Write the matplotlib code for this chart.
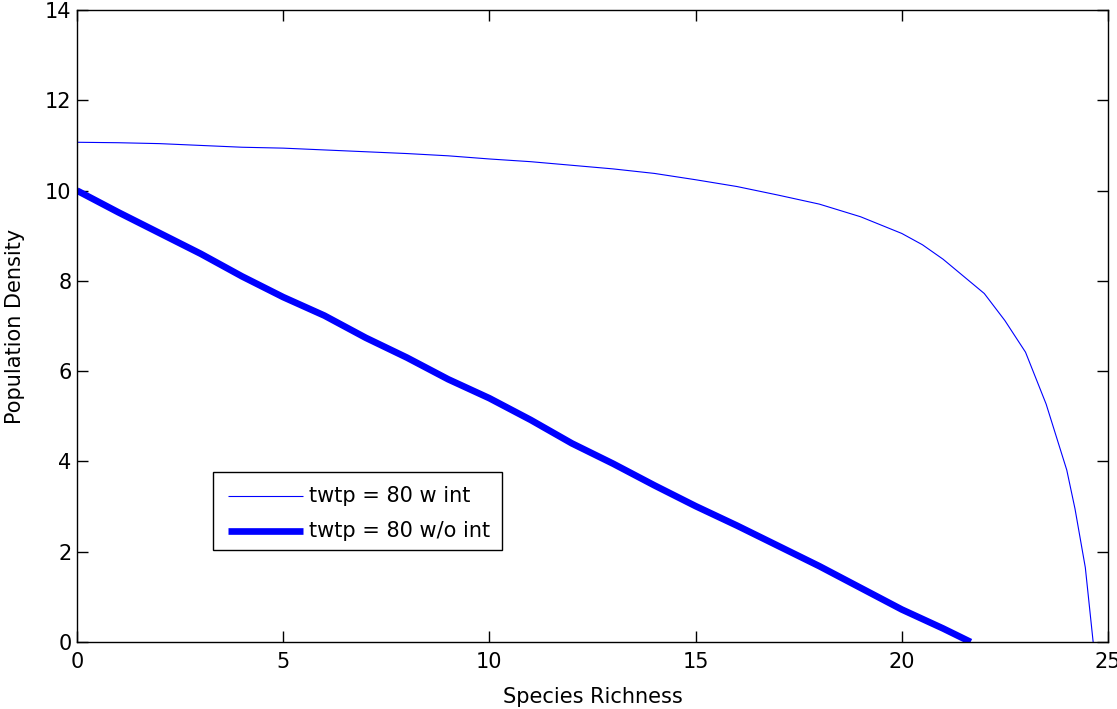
import matplotlib
matplotlib.use("Agg")
import matplotlib.pyplot as plt
from matplotlib.patches import Rectangle
from matplotlib.lines import Line2D

plt.rcParams['font.family'] = ['DejaVu Sans']

# Population density vs species richness, with interaction
richness_int = [0, 1, 2, 3, 4, 5, 6, 7, 8, 9, 10, 11, 12, 13, 14, 15, 16, 17, 18,
                19, 20, 20.5, 21, 21.5, 22, 22.5, 23, 23.5, 24, 24.2, 24.45, 24.64]
density_int = [11.07, 11.06, 11.04, 11.00, 10.96, 10.94, 10.90, 10.86, 10.82, 10.77,
               10.70, 10.64, 10.56, 10.48, 10.38, 10.24, 10.09, 9.90, 9.70, 9.42,
               9.05, 8.80, 8.48, 8.10, 7.72, 7.12, 6.42, 5.27, 3.81, 2.95, 1.65, 0.0]

# Without interaction
richness_noint = [0, 1, 2, 3, 4, 5, 6, 7, 8, 9, 10, 11, 12, 13, 14, 15, 16, 17, 18,
                  19, 20, 21, 21.67]
density_noint = [10.0, 9.52, 9.06, 8.60, 8.10, 7.64, 7.23, 6.74, 6.30, 5.82, 5.40,
                 4.92, 4.40, 3.95, 3.47, 3.01, 2.58, 2.13, 1.68, 1.20, 0.72, 0.30, 0.0]

labels = ['twtp = 80 w int', 'twtp = 80 w/o int']
x_ticks = [0, 5, 10, 15, 20, 25]
y_ticks = [0, 2, 4, 6, 8, 10, 12, 14]

FS = 15
thin_lw = 0.8
thick_lw = 4.8

W, H = 1117, 709
L, R, T, B = 77, 1108, 10, 642

fig = plt.figure(figsize=(W / 100, H / 100), dpi=100)
ax = fig.add_axes([L / W, 1 - B / H, (R - L) / W, (B - T) / H])

ax.plot(richness_int, density_int, color='#0000ff', lw=thin_lw, solid_joinstyle='round')
ax.plot(richness_noint, density_noint, color='#0000ff', lw=thick_lw, solid_capstyle='butt',
        solid_joinstyle='round')

ax.set_xlim(0, 25)
ax.set_ylim(0, 14)
ax.set_xticks(x_ticks)
ax.set_yticks(y_ticks)
ax.tick_params(direction='in', length=8, width=1, top=True, right=True,
               labelsize=FS)
ax.tick_params(axis='x', pad=7)
ax.tick_params(axis='y', pad=4)
for s in ax.spines.values():
    s.set_linewidth(1.0)

ax.set_xlabel('Species Richness', fontsize=FS, labelpad=11)
ax.set_ylabel('Population Density', fontsize=FS, labelpad=14)

# Legend box
pw, ph = R - L, B - T
x0, x1 = (213 - L) / pw, (502 - L) / pw
y0, y1 = (B - 550) / ph, (B - 472) / ph
ax.add_patch(Rectangle((x0, y0), x1 - x0, y1 - y0, transform=ax.transAxes,
                       facecolor='white', edgecolor='black', lw=1.0, zorder=5))
rows = [(B - 496) / ph, (B - 531) / ph]
widths = [thin_lw, thick_lw]
lx0, lx1 = (228 - L) / pw, (303 - L) / pw
tx = (309 - L) / pw
for lab, yy, lw in zip(labels, rows, widths):
    ax.add_line(Line2D([lx0, lx1], [yy, yy], transform=ax.transAxes,
                       color='#0000ff', lw=lw, solid_capstyle='butt', zorder=6))
    ax.text(tx, yy, lab, transform=ax.transAxes, fontsize=FS, va='center',
            ha='left', zorder=6)

fig.savefig('out.png', dpi=100)
